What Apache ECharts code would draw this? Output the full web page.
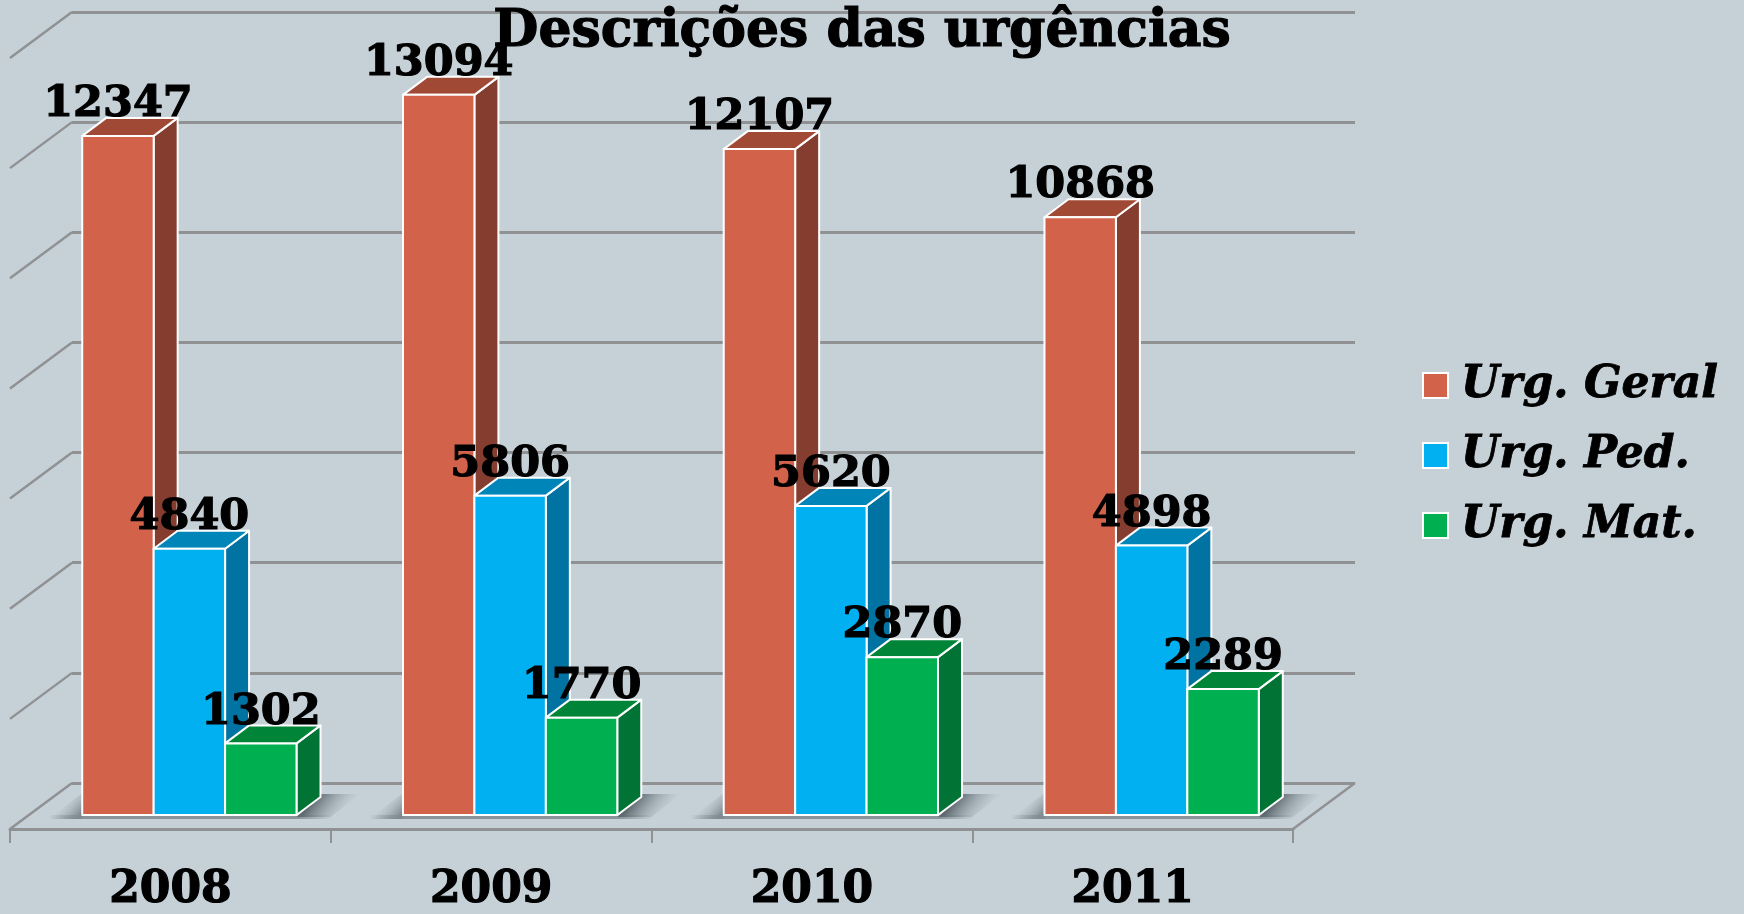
<!DOCTYPE html>
<html><head><meta charset="utf-8">
<style>html,body{margin:0;padding:0;background:#c5d0d7}#c{width:1744px;height:914px}</style>
<script src="https://cdn.jsdelivr.net/npm/echarts@6/dist/echarts.min.js"></script>
</head><body><div id="c"></div>
<script>
const categories = ['2008', '2009', '2010', '2011'];
const seriesNames = ['Urg. Geral', 'Urg. Ped.', 'Urg. Mat.'];
const urgGeral = [12347, 13094, 12107, 10868];
const urgPed = [4840, 5806, 5620, 4898];
const urgMat = [1302, 1770, 2870, 2289];
const gridTicks = [0, 2000, 4000, 6000, 8000, 10000, 12000, 14000];

const seriesValues = [urgGeral, urgPed, urgMat];
const frontColors = ['#D2624A', '#00B0F0', '#00B050'];
const sideColors = ['#843D2E', '#0073A2', '#007335'];
const topColors = ['#A04A35', '#0085B8', '#008438'];
const BG = '#c5d0d7', LINE = '#8f9193', SERIF = '"DejaVu Serif"';
const DX = 24, DY = 18, BAR = 0.2227;

const chart = echarts.init(document.getElementById('c'), null, {renderer: 'canvas'});

function barRender(si) {
  return function (params, api) {
    const c = api.value(0), v = api.value(1);
    const base = api.coord([c, 0]), top = api.coord([c, v]);
    const w = api.size([1, 0])[0] * BAR;
    const x0 = base[0] + (si - 1.5) * w, x1 = x0 + w, yb = base[1], yt = top[1];
    const stroke = {stroke: '#fff', lineWidth: 2, lineJoin: 'round'};
    return {type: 'group', children: [
      {type: 'polygon', shape: {points: [[x1, yb], [x1 + DX, yb - DY], [x1 + DX, yt - DY], [x1, yt]]},
        style: Object.assign({fill: sideColors[si]}, stroke)},
      {type: 'polygon', shape: {points: [[x0, yt], [x0 + DX, yt - DY], [x1 + DX, yt - DY], [x1, yt]]},
        style: Object.assign({fill: topColors[si]}, stroke)},
      {type: 'rect', shape: {x: x0, y: yt, width: w, height: yb - yt},
        style: Object.assign({fill: frontColors[si]}, stroke)}
    ]};
  };
}
function labelRender(params, api) {
  const c = api.value(0), si = api.value(1), v = api.value(2);
  const top = api.coord([c, v]);
  const w = api.size([1, 0])[0] * BAR;
  return {type: 'text', style: {
    x: top[0] + (si - 1) * w, y: top[1] - 31, text: String(v), fill: '#000', stroke: '#000', lineWidth: 1.2,
    font: 'bold 43px ' + SERIF, textAlign: 'center', textVerticalAlign: 'middle'}};
}
function shadowRender(params, api) {
  const c = api.value(0);
  const base = api.coord([c, 0]);
  const w = api.size([1, 0])[0] * BAR;
  const xl = base[0] - 1.5 * w, xr = base[0] + 1.5 * w, y = base[1];
  const dark = 'rgba(95,105,112,1)', clear = 'rgba(160,172,180,0)';
  return {type: 'group', children: [
    {type: 'polygon', shape: {points: [[xl - 34, y + 4], [xl, y - 22], [xl, y + 4]]},
      style: {fill: {type: 'linear', x: 0.4, y: 0.45, x2: 0.95, y2: 1.1, colorStops: [{offset: 0, color: clear}, {offset: 1, color: dark}]}}},
    {type: 'rect', shape: {x: xl - 34, y: y, width: 3 * w + 70, height: 4},
      style: {fill: {type: 'linear', x: 0, y: 0, x2: 1, y2: 0, colorStops: [
        {offset: 0, color: 'rgba(130,140,146,0)'}, {offset: 0.12, color: 'rgba(130,140,146,0.9)'},
        {offset: 0.88, color: 'rgba(130,140,146,0.9)'}, {offset: 1, color: 'rgba(130,140,146,0)'}]}}},
    {type: 'polygon', shape: {points: [[xr, y + 2], [xr + 24, y - 21], [xr + 64, y - 21], [xr + 34, y + 2]]},
      style: {fill: {type: 'linear', x: 0.2, y: 0.5, x2: 0.62, y2: 1.4, colorStops: [{offset: 0, color: dark}, {offset: 1, color: clear}]}}}
  ]};
}
function wallRender(params, api) {
  const p = api.coord([0, api.value(0)]);
  const x = params.coordSys.x, y = p[1];
  const s = {stroke: LINE, lineWidth: 2.4};
  const kids = [{type: 'line', shape: {x1: x, y1: y, x2: x - 62, y2: y + 46}, style: s}];
  if (api.value(0) === 0) {
    const xr = x + params.coordSys.width;
    kids.push({type: 'line', shape: {x1: xr, y1: y, x2: xr - 62, y2: y + 46}, style: s});
  }
  return {type: 'group', children: kids};
}

const hiddenY = g => ({type: 'value', gridIndex: g, min: 0, max: 14000, interval: 2000, show: false});
const hiddenX = g => ({type: 'category', gridIndex: g, data: categories, show: false});
const labelData = [];
seriesValues.forEach((arr, si) => arr.forEach((v, c) => labelData.push([c, si, v])));

chart.setOption({
  backgroundColor: BG,
  animation: false,
  title: {text: 'Descrições das urgências', left: 857, top: 1, textAlign: 'center',
    textStyle: {fontFamily: SERIF, fontWeight: 'bold', fontSize: 52, color: '#000', textBorderColor: '#000', textBorderWidth: 1.2}},
  legend: {
    orient: 'vertical', left: 1417, top: 350, itemWidth: 25, itemHeight: 25, itemGap: 9,
    textStyle: {fontFamily: SERIF, fontWeight: 'bold', fontStyle: 'italic', fontSize: 44, color: '#000', lineHeight: 56,
      textBorderColor: '#000', textBorderWidth: 0.8, padding: [5, 0, 0, 8]},
    data: seriesNames.map((n, i) => ({name: n, icon: 'rect',
      itemStyle: {color: frontColors[i], borderColor: '#fff', borderWidth: 2}}))
  },
  grid: [
    {left: 10, top: 59, width: 1283, height: 770},
    {left: 72, top: 12, width: 1283, height: 771},
    {left: 29, top: 45, width: 1283, height: 770}
  ],
  xAxis: [
    {type: 'category', gridIndex: 0, data: categories, boundaryGap: true,
      axisLine: {show: true, lineStyle: {color: LINE, width: 3}},
      axisTick: {show: true, length: 14, lineStyle: {color: LINE, width: 2}},
      axisLabel: {margin: 40, color: '#000', fontFamily: SERIF, fontWeight: 'bold', fontSize: 44,
        textBorderColor: '#000', textBorderWidth: 1.2}},
    hiddenX(1), hiddenX(2)
  ],
  yAxis: [
    hiddenY(0),
    {type: 'value', gridIndex: 1, min: 0, max: 14000, interval: 2000,
      axisLine: {show: false}, axisTick: {show: false}, axisLabel: {show: false},
      splitLine: {show: true, lineStyle: {color: LINE, width: 3}}},
    hiddenY(2)
  ],
  series: [
    {type: 'custom', name: 'wall', xAxisIndex: 1, yAxisIndex: 1, z: 1, silent: true,
      data: gridTicks.map(t => [t]), encode: {y: 0}, renderItem: wallRender},
    {type: 'custom', name: 'shadow', xAxisIndex: 2, yAxisIndex: 2, z: 2, silent: true,
      data: categories.map((c, i) => [i]), renderItem: shadowRender}
  ].concat(seriesNames.map((n, si) => ({
    type: 'custom', name: n, xAxisIndex: 2, yAxisIndex: 2, z: 3 + si,
    itemStyle: {color: frontColors[si]},
    data: seriesValues[si].map((v, c) => [c, v]), encode: {x: 0, y: 1}, renderItem: barRender(si)
  }))).concat([
    {type: 'custom', name: 'labels', xAxisIndex: 2, yAxisIndex: 2, z: 10, silent: true,
      data: labelData, renderItem: labelRender}
  ])
});
</script></body></html>
